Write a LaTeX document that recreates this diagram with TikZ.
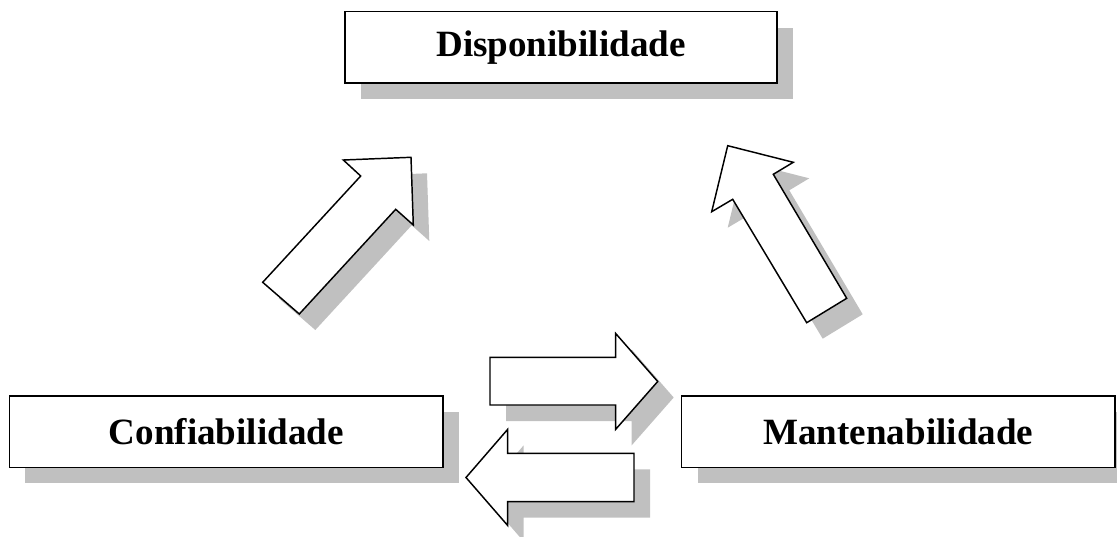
\documentclass[tikz,border=0pt]{standalone}
\usepackage{fontspec}
\setmainfont{Liberation Serif}
\usetikzlibrary{shadows}
\definecolor{shadowgray}{RGB}{192,192,192}
\tikzset{
  px/.style={x=0.75pt,y=-0.75pt},
  labelbox/.style={draw=black,fill=white,line width=1.1pt,rectangle,
    minimum height=53.5pt,inner sep=0pt,
    font=\fontsize{27.8pt}{31pt}\selectfont\bfseries,
    general shadow={fill=shadowgray,shadow xshift=12pt,shadow yshift=-12pt}},
  arrowbody/.style={draw=black,fill=white,line width=1.1pt,line join=miter},
  arrowshadow/.style={fill=shadowgray}
}
% block arrow: grey offset copy under a white outlined polygon
\newcommand{\blockarrow}[1]{%
  \fill[arrowshadow,shift={(16,16)}] #1;
  \filldraw[arrowbody] #1;}
\begin{document}
\begin{tikzpicture}[px]
\useasboundingbox (0,0) rectangle (1117,536);

% text boxes
\node[labelbox,minimum width=324pt] (disp) at (561,47.3) {Disponibilidade};
\node[labelbox,minimum width=325.3pt] (conf) at (226.2,431.7) {Confiabilidade};
\node[labelbox,minimum width=325pt] (mant) at (898.3,431.7) {Mantenabilidade};

% Confiabilidade -> Disponibilidade
\blockarrow{(262.7,282.3) -- (360.7,176) -- (343.3,160) -- (411,157.3) -- (413.3,225) -- (395.7,209.3) -- (299.3,314) -- cycle}

% Mantenabilidade -> Disponibilidade
\blockarrow{(727.7,145.7) -- (793.3,162.3) -- (773.3,174.3) -- (846.7,298.3) -- (806.7,322.7) -- (732.7,199.3) -- (711.7,211.7) -- cycle}

% Confiabilidade -> Mantenabilidade
\blockarrow{(490,357.3) -- (615.7,357.3) -- (615.7,333.5) -- (657.7,381.5) -- (615.7,429.3) -- (615.7,405) -- (490,405) -- cycle}

% Mantenabilidade -> Confiabilidade
\blockarrow{(466,477.5) -- (507.7,429.3) -- (507.7,453.3) -- (634,453.3) -- (634,501.7) -- (507.7,501.7) -- (507.7,525.5) -- cycle}
\end{tikzpicture}
\end{document}
